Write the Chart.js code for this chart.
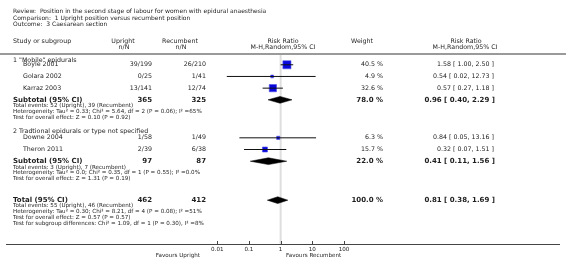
<!DOCTYPE html>
<html>
<head>
<meta charset="utf-8">
<script src="https://cdn.jsdelivr.net/npm/chart.js@4/dist/chart.umd.min.js"></script>
<style>
  html, body { margin: 0; padding: 0; background: #fff; }
  canvas { display: block; }
</style>
</head>
<body>
<canvas id="forest" width="566" height="260"></canvas>
<script>
// Forest plot: Upright vs recumbent position, outcome Caesarean section

const titleLines = [
    'Review:  Position in the second stage of labour for women with epidural anaesthesia',
    'Comparison:  1 Upright position versus recumbent position',
    'Outcome:  3 Caesarean section',
];

const groupTitles = ['1 "Mobile" epidurals', '2 Tradtional epidurals or type not specified'];

const studies = ['Boyle 2001', 'Golara 2002', 'Karraz 2003', 'Downe 2004', 'Theron 2011'];
const uprightNN = ['39/199', '0/25', '13/141', '1/58', '2/39'];
const recumbentNN = ['26/210', '1/41', '12/74', '1/49', '6/38'];
const studyRR = [1.58, 0.54, 0.57, 0.84, 0.32];
const studyLow = [1.00, 0.02, 0.27, 0.05, 0.07];
const studyHigh = [2.50, 12.73, 1.18, 13.16, 1.51];
const studyWeight = [40.5, 4.9, 32.6, 6.3, 15.7];

const subtotalUpright = [365, 97];
const subtotalRecumbent = [325, 87];
const subtotalRR = [0.96, 0.41];
const subtotalLow = [0.40, 0.11];
const subtotalHigh = [2.29, 1.56];
const subtotalWeight = [78.0, 22.0];
const subtotalStats = [
    [
        'Total events: 52 (Upright), 39 (Recumbent)',
        'Heterogeneity: Tau\u00b2 = 0.33; Chi\u00b2 = 5.64, df = 2 (P = 0.06); I\u00b2 =65%',
        'Test for overall effect: Z = 0.10 (P = 0.92)',
    ],
    [
        'Total events: 3 (Upright), 7 (Recumbent)',
        'Heterogeneity: Tau\u00b2 = 0.0; Chi\u00b2 = 0.35, df = 1 (P = 0.55); I\u00b2 =0.0%',
        'Test for overall effect: Z = 1.31 (P = 0.19)',
    ],
];

const totalUpright = 462;
const totalRecumbent = 412;
const totalRR = 0.81;
const totalLow = 0.38;
const totalHigh = 1.69;
const totalWeight = 100.0;
const totalStats = [
    'Total events: 55 (Upright), 46 (Recumbent)',
    'Heterogeneity: Tau\u00b2 = 0.30; Chi\u00b2 = 8.21, df = 4 (P = 0.08); I\u00b2 =51%',
    'Test for overall effect: Z = 0.57 (P = 0.57)',
    'Test for subgroup differences: Chi\u00b2 = 1.09, df = 1 (P = 0.30), I\u00b2 =8%',
];

const tickValues = [0.01, 0.1, 1, 10, 100];
const favoursLeft = 'Favours Upright';
const favoursRight = 'Favours Recumbent';

// ── layout (row y positions in px, which the y scale maps 1:1) ──
const FONT = '"DejaVu Sans", Verdana, sans-serif';
const FS = 6.3;       // table text
const FS_BOLD = 7;    // subtotal / total rows
const FS_SMALL = 5.6; // stats lines, axis
const ROW = {
    title: [5, 12, 19],
    head: [36, 42],
    rule: 49,
    group: [55, 128],
    study: [60, 72, 84, 135, 147],
    subtotal: [96, 159],
    stats: [[102, 108, 114], [165, 171, 177]],
    total: 199,
    totalStats: [205, 211, 217, 223],
    axis: 244,
    favours: 256,
};
const COL = { name: 13, study: 23, upright: 152, recumbent: 206, plotHead: 283, weight: 383, weightHead: 362, ci: 494, ciHead: 466 };

const fmtCI = (e, l, h) => `${e.toFixed(2)} [ ${l.toFixed(2)}, ${h.toFixed(2)} ]`;
const fmtW = w => `${w.toFixed(1)} %`;

// ── datasets ──
const datasets = [];

// confidence interval lines, on top of the squares
studies.forEach((s, i) => {
    datasets.push({
        type: 'scatter',
        data: [{ x: studyLow[i], y: ROW.study[i] }, { x: studyHigh[i], y: ROW.study[i] }],
        showLine: true,
        borderColor: '#111',
        borderWidth: 1,
        pointRadius: 0,
        order: 0,
    });
});

// study squares, area following the weight
datasets.push({
    type: 'scatter',
    data: studies.map((s, i) => ({ x: studyRR[i], y: ROW.study[i] })),
    pointStyle: 'rect',
    pointRadius: studyWeight.map(w => Math.max(0.9, Math.sqrt(w) * 0.9)),
    backgroundColor: '#0808dc',
    borderColor: '#5050e8',
    borderWidth: 0.6,
    order: 1,
});

// pooled diamonds
const diamond = (e, l, h, y) => ([
    { x: l, y }, { x: e, y: y - 3.5 }, { x: h, y }, { x: e, y: y + 3.5 }, { x: l, y },
]);
const diamondStyle = {
    type: 'scatter',
    showLine: true,
    fill: 'shape',
    backgroundColor: '#000',
    borderColor: '#000',
    borderWidth: 0.5,
    pointRadius: 0,
    order: 0,
};
subtotalRR.forEach((e, g) => {
    datasets.push({ ...diamondStyle, data: diamond(e, subtotalLow[g], subtotalHigh[g], ROW.subtotal[g]) });
});
datasets.push({ ...diamondStyle, data: diamond(totalRR, totalLow, totalHigh, ROW.total) });

// line of no effect
datasets.push({
    type: 'scatter',
    data: [{ x: 1, y: ROW.rule + 1 }, { x: 1, y: ROW.axis }],
    showLine: true,
    borderColor: '#dedede',
    borderWidth: 2,
    pointRadius: 0,
    order: 5,
});

// ── table text and decorations ──
const tablePlugin = {
    id: 'forestTable',
    afterDatasetsDraw(chart) {
        const { ctx } = chart;
        const xs = chart.scales.x;
        const ys = chart.scales.y;
        const Y = v => ys.getPixelForValue(v);
        const txt = (s, x, y, align = 'left', size = FS, bold = false) => {
            ctx.font = `${bold ? 'bold ' : ''}${size}px ${FONT}`;
            ctx.textAlign = align;
            ctx.fillText(s, x, Y(y));
        };
        ctx.save();
        ctx.fillStyle = '#1e1e1e';
        ctx.textBaseline = 'middle';

        titleLines.forEach((t, i) => txt(t, COL.name, ROW.title[i], 'left', 6));

        txt('Study or subgroup', COL.name, ROW.head[0], 'left');
        txt('Upright', 123, ROW.head[0], 'center');
        txt('n/N', 124, ROW.head[1], 'center');
        txt('Recumbent', 180, ROW.head[0], 'center');
        txt('n/N', 181, ROW.head[1], 'center');
        txt('Risk Ratio', COL.plotHead, ROW.head[0], 'center');
        txt('M-H,Random,95% CI', COL.plotHead, ROW.head[1], 'center');
        txt('Weight', COL.weightHead, ROW.head[0], 'center');
        txt('Risk Ratio', COL.ciHead, ROW.head[0], 'center');
        txt('M-H,Random,95% CI', COL.ciHead - 1, ROW.head[1], 'center');

        groupTitles.forEach((g, i) => txt(g, COL.name, ROW.group[i], 'left'));

        studies.forEach((s, i) => {
            const y = ROW.study[i];
            txt(s, COL.study, y, 'left');
            txt(uprightNN[i], COL.upright, y, 'right');
            txt(recumbentNN[i], COL.recumbent, y, 'right');
            txt(fmtW(studyWeight[i]), COL.weight, y, 'right');
            txt(fmtCI(studyRR[i], studyLow[i], studyHigh[i]), COL.ci, y, 'right');
        });

        subtotalRR.forEach((e, g) => {
            const y = ROW.subtotal[g];
            txt('Subtotal (95% CI)', COL.name, y, 'left', FS_BOLD, true);
            txt(String(subtotalUpright[g]), COL.upright, y, 'right', FS_BOLD, true);
            txt(String(subtotalRecumbent[g]), COL.recumbent, y, 'right', FS_BOLD, true);
            txt(fmtW(subtotalWeight[g]), COL.weight, y, 'right', FS_BOLD, true);
            txt(fmtCI(e, subtotalLow[g], subtotalHigh[g]), COL.ci + 1, y, 'right', FS_BOLD, true);
            subtotalStats[g].forEach((s, k) => txt(s, COL.name, ROW.stats[g][k], 'left', FS_SMALL));
        });

        txt('Total (95% CI)', COL.name, ROW.total, 'left', FS_BOLD, true);
        txt(String(totalUpright), COL.upright, ROW.total, 'right', FS_BOLD, true);
        txt(String(totalRecumbent), COL.recumbent, ROW.total, 'right', FS_BOLD, true);
        txt(fmtW(totalWeight), COL.weight, ROW.total, 'right', FS_BOLD, true);
        txt(fmtCI(totalRR, totalLow, totalHigh), COL.ci + 1, ROW.total, 'right', FS_BOLD, true);
        totalStats.forEach((s, k) => txt(s, COL.name, ROW.totalStats[k], 'left', FS_SMALL));

        txt(favoursLeft, 200, ROW.favours, 'right', FS_SMALL);
        txt(favoursRight, 286, ROW.favours, 'left', FS_SMALL);

        // header rule
        ctx.strokeStyle = '#9a9a9a';
        ctx.lineWidth = 2;
        ctx.beginPath();
        ctx.moveTo(0, Y(ROW.rule));
        ctx.lineTo(chart.width, Y(ROW.rule));
        ctx.stroke();

        // small tick marks sitting on the axis
        ctx.strokeStyle = '#444';
        ctx.lineWidth = 1;
        ctx.beginPath();
        tickValues.forEach(v => {
            const x = Math.round(xs.getPixelForValue(v)) + 0.5;
            ctx.moveTo(x, Y(ROW.axis) - 3);
            ctx.lineTo(x, Y(ROW.axis));
        });
        ctx.stroke();
        ctx.restore();
    },
};

// log axis spans the whole width; 1 sits at x=280.5, ~32.4 px per decade
const X_LOG_MIN = -8.66;
const X_LOG_MAX = 8.81;

new Chart(document.getElementById('forest').getContext('2d'), {
    type: 'scatter',
    data: { datasets },
    plugins: [tablePlugin],
    options: {
        responsive: false,
        animation: false,
        events: [],
        layout: { padding: 0 },
        plugins: {
            legend: { display: false },
            tooltip: { enabled: false },
        },
        scales: {
            x: {
                type: 'logarithmic',
                bounds: 'data',
                min: Math.pow(10, X_LOG_MIN),
                max: Math.pow(10, X_LOG_MAX),
                afterBuildTicks: s => { s.ticks = tickValues.map(v => ({ value: v })); },
                afterFit: s => { s.height = 260 - ROW.axis; },
                grid: { display: false, drawTicks: false },
                border: { display: true, color: '#444', width: 1 },
                ticks: {
                    autoSkip: false,
                    maxRotation: 0,
                    padding: 2,
                    color: '#222',
                    font: { family: FONT, size: FS_SMALL },
                    callback: v => String(v),
                },
            },
            y: {
                type: 'linear',
                min: 0,
                max: ROW.axis,
                reverse: true,
                display: false,
            },
        },
    },
});
</script>
</body>
</html>
